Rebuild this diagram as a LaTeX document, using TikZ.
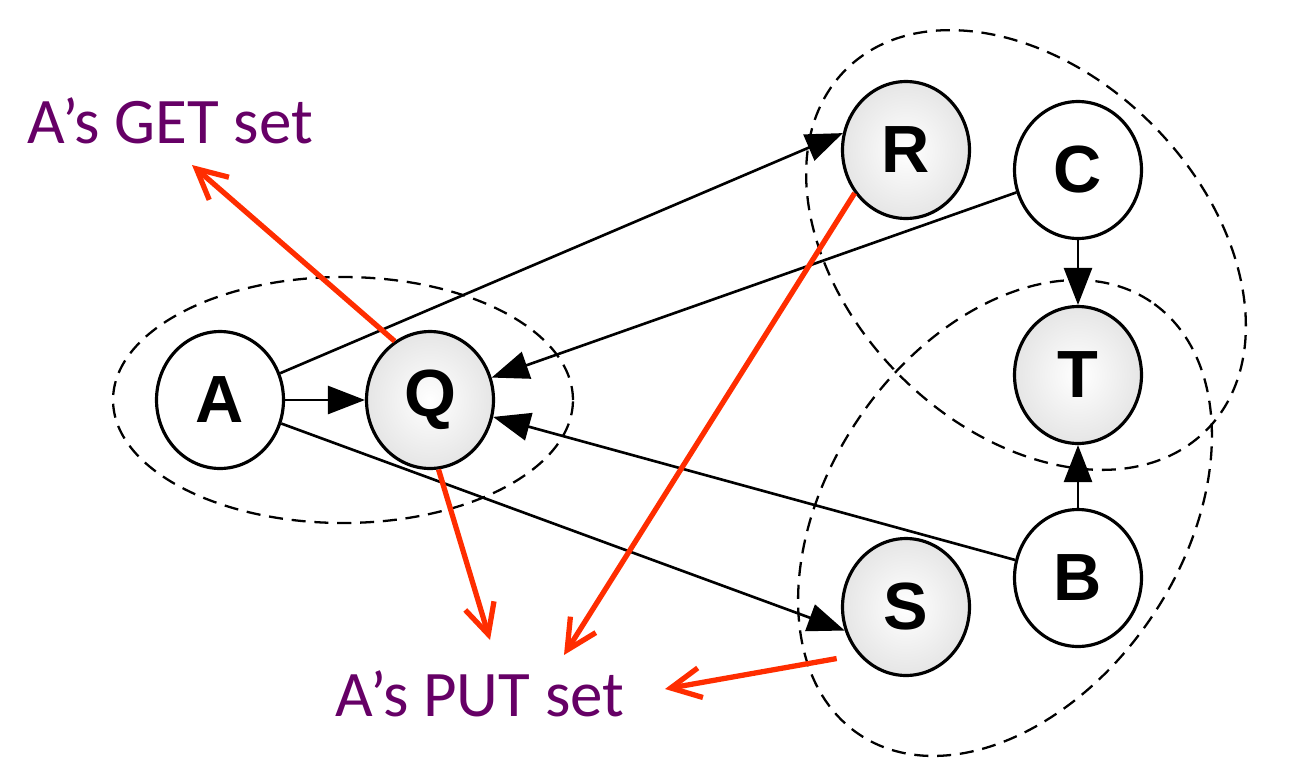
\documentclass[tikz,border=0pt]{standalone}
\usepackage{fontspec}
\setmainfont{Carlito}
\setsansfont{Liberation Sans}
\usepackage{tikz}
\usetikzlibrary{arrows.meta,shapes.geometric}
\definecolor{setpurple}{RGB}{102,0,102}
\definecolor{setred}{RGB}{255,45,0}
\pgfdeclareradialshading{ballshade}{\pgfpoint{0bp}{0bp}}{color(0bp)=(white); color(50bp)=(black!20); color(100bp)=(black!20)}

\begin{document}
\begin{tikzpicture}
            [x=0.02cm, y=-0.02cm, >={Triangle[length=0.74cm,width=0.56cm]},
            rv/.style={ellipse, draw, line width=1.8pt, fill=white, minimum width=2.54cm, minimum height=2.74cm, inner sep=0pt, font=\sffamily\bfseries\fontsize{38}{42}\selectfont},
            rvg/.style={rv, shading=ballshade},
            grp/.style={line width=1.3pt, dash pattern=on 8pt off 5pt},
            lbl/.style={text=setpurple, font=\fontsize{37}{42}\selectfont},
            put/.style={setred, line width=3pt, -{Straight Barb[length=0.6cm,width=0.6cm]}}]
            \useasboundingbox (0,0) rectangle (1302,768);
            % groups
            \draw[grp] (343,400) ellipse [x radius=4.6cm, y radius=2.46cm];
            \draw[grp, rotate around={-45:(1026,250)}] (1026,250) ellipse [x radius=5.1cm, y radius=3.56cm];
            \draw[grp, rotate around={56:(1005,518)}] (1005,518) ellipse [x radius=5.22cm, y radius=3.54cm];
            \begin{scope}
            \node[rv] (a) at (220,400) {A};
            \node[rvg] (q) at (430,400) {Q};
            \node[rvg] (r) at (906,150) {R};
            \node[rv] (c) at (1078,170) {C};
            \node[rvg] (t) at (1078,375) {T};
            \node[rv] (b) at (1078,578) {B};
            \node[rvg] (s) at (906,607) {S};
            \end{scope}
            \node[lbl] (get) at (170,121) {A’s GET set};
            \node[lbl] (put) at (480,694) {A’s PUT set};
            \begin{scope}[line width=1.5pt]
            \draw[->] (a) -- (q);
            \draw[->] (a.24) -- (r.165);
            \draw[->] (a.-21) -- (s.201);
            \draw[->] (c.200) -- (q.20);
            \draw[->] (b.164) -- (q.-15);
            \draw[->] (c) -- (t);
            \draw[->] (b) -- (t);
            \end{scope}
            % red pointers to the labels
            \coordinate (get q) at (192,165);
            \coordinate (put q) at (490,640);
            \coordinate (put r) at (564,655);
            \coordinate (put s) at (665,689);
            \draw[put] (q.121) -- (get q);
            \draw[put] (q.-83) -- (put q);
            \draw[put] (r.220) -- (put r);
            \draw[put, shorten <=0.44cm] (s.225) -- (put s);
            \end{tikzpicture}
\end{document}
